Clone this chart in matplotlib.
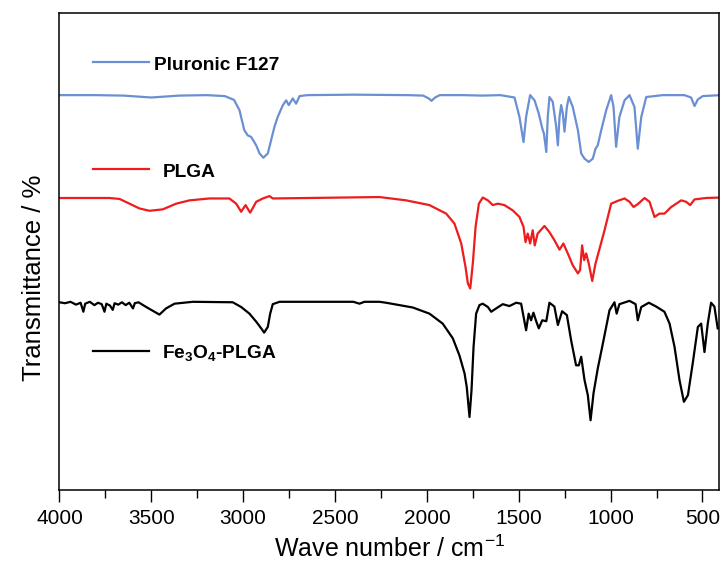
import matplotlib
matplotlib.use("Agg")
import matplotlib.pyplot as plt

plt.rcParams['font.family'] = ['Liberation Sans', 'DejaVu Sans']
plt.rcParams['mathtext.fontset'] = 'custom'
plt.rcParams['mathtext.rm'] = 'Liberation Sans'
plt.rcParams['mathtext.bf'] = 'Liberation Sans:bold'

# FTIR spectra (wavenumber, offset transmittance)
f127_wn = [4000, 3800, 3650, 3500, 3350, 3200, 3100, 3050, 3020, 2994, 2975, 2957, 2929,
           2911, 2890, 2866, 2848, 2830, 2812, 2784, 2766, 2752, 2730, 2712, 2693, 2650,
           2400, 2100, 2020, 1990, 1975, 1955, 1930, 1800, 1700, 1600, 1523, 1496, 1474,
           1460, 1438, 1414, 1391, 1372, 1363, 1350, 1342, 1333, 1315, 1296, 1287, 1278,
           1269, 1260, 1251, 1238, 1227, 1206, 1178, 1160, 1142, 1119, 1097, 1082, 1070,
           1051, 1024, 997, 984, 970, 952, 924, 897, 870, 852, 833, 806, 716, 598, 562,
           543, 525, 498, 400]
f127_t = [82.5, 82.5, 82.4, 82.0, 82.4, 82.5, 82.3, 81.5, 79.3, 75.1, 74.0, 73.7, 71.9,
          70.2, 69.3, 70.2, 73.0, 75.8, 77.9, 80.4, 81.4, 80.4, 81.8, 80.7, 82.3, 82.5,
          82.6, 82.5, 82.4, 81.8, 81.3, 82.0, 82.5, 82.5, 82.4, 82.5, 82.0, 77.9, 72.6,
          77.9, 82.5, 81.4, 78.6, 75.5, 74.4, 70.5, 77.9, 82.1, 81.1, 75.8, 71.9, 77.9,
          80.4, 78.6, 74.8, 80.0, 82.1, 80.0, 75.1, 70.2, 69.1, 68.4, 69.1, 71.2, 71.9,
          75.1, 79.3, 82.5, 80.0, 71.6, 77.9, 81.4, 82.5, 80.0, 71.2, 77.9, 82.1, 82.5,
          82.5, 82.0, 80.2, 81.6, 82.3, 82.5]

plga_wn = [4000, 3728, 3673, 3619, 3565, 3510, 3438, 3365, 3292, 3184, 3075, 3038, 3011,
           2987, 2962, 2929, 2893, 2857, 2839, 2258, 2113, 1986, 1895, 1850, 1813, 1790,
           1777, 1764, 1750, 1735, 1717, 1696, 1668, 1641, 1614, 1578, 1533, 1496, 1474,
           1463, 1451, 1438, 1424, 1413, 1397, 1360, 1333, 1306, 1278, 1257, 1233, 1206,
           1178, 1166, 1155, 1144, 1133, 1119, 1100, 1082, 1060, 1033, 997, 961, 924, 897,
           875, 852, 815, 788, 761, 734, 707, 670, 616, 589, 567, 543, 480, 400]
plga_t = [60.8, 60.8, 60.6, 59.6, 58.6, 58.1, 58.4, 59.6, 60.3, 60.7, 60.7, 59.6, 57.9,
          59.3, 57.7, 60.0, 60.7, 61.2, 60.7, 61.0, 60.3, 59.3, 57.5, 55.4, 51.2, 46.3,
          42.8, 41.7, 47.0, 54.7, 59.6, 60.9, 60.3, 59.3, 59.6, 59.3, 58.2, 56.8, 54.7,
          51.5, 53.3, 51.2, 54.0, 50.8, 53.3, 54.9, 53.6, 51.9, 49.9, 51.2, 49.1, 46.6,
          44.9, 45.6, 50.8, 47.7, 49.1, 47.0, 43.3, 47.0, 50.1, 54.0, 59.6, 60.2, 60.7,
          60.0, 58.9, 59.5, 60.8, 60.0, 56.8, 57.5, 57.5, 58.9, 60.3, 60.0, 59.3, 60.5,
          60.8, 60.9]

fe_wn = [4000, 3970, 3940, 3910, 3885, 3870, 3860, 3835, 3810, 3790, 3770, 3755, 3745,
         3725, 3710, 3700, 3680, 3660, 3640, 3620, 3600, 3590, 3570, 3528, 3483, 3456,
         3420, 3374, 3274, 3057, 3011, 2966, 2929, 2902, 2886, 2866, 2853, 2839, 2802,
         2400, 2367, 2340, 2258, 2222, 2077, 1986, 1914, 1859, 1823, 1795, 1783, 1768,
         1757, 1746, 1732, 1714, 1696, 1668, 1650, 1623, 1587, 1551, 1514, 1487, 1460,
         1446, 1433, 1420, 1405, 1391, 1372, 1350, 1333, 1306, 1287, 1264, 1238, 1215,
         1188, 1173, 1160, 1142, 1124, 1109, 1093, 1070, 1042, 1006, 979, 967, 952, 897,
         864, 852, 833, 792, 752, 707, 679, 652, 625, 601, 579, 553, 525, 507, 489, 471,
         453, 435, 417]
fe_t = [38.8, 38.6, 38.9, 38.3, 38.7, 36.8, 38.5, 38.9, 38.2, 38.7, 38.4, 36.8, 38.5,
        38.1, 37.2, 38.6, 38.3, 38.8, 38.2, 38.7, 37.5, 38.6, 38.8, 37.8, 36.8, 36.2,
        37.5, 38.5, 38.9, 38.8, 37.8, 36.4, 34.7, 33.3, 32.4, 33.6, 36.4, 38.4, 38.9,
        38.9, 38.5, 38.9, 38.9, 38.7, 37.7, 36.4, 34.3, 31.2, 27.6, 23.8, 20.9, 14.6,
        20.3, 29.4, 36.4, 38.2, 38.5, 37.8, 36.8, 37.5, 38.4, 38.0, 38.7, 38.5, 32.9,
        36.4, 35.0, 36.6, 34.8, 33.3, 35.0, 34.8, 38.7, 37.9, 34.0, 36.9, 36.1, 30.8,
        25.5, 25.5, 27.3, 22.4, 19.2, 13.9, 19.6, 24.8, 30.1, 37.1, 38.8, 36.4, 38.4,
        39.1, 38.4, 35.0, 37.8, 38.7, 37.9, 36.8, 34.3, 29.4, 22.4, 17.8, 19.2, 25.9,
        33.6, 34.3, 28.3, 34.3, 38.7, 37.9, 33.3]

series = [
    (f127_wn, f127_t, '#6a8fd2', 'Pluronic F127', 0.897, 0.881),
    (plga_wn, plga_t, '#ee1c1c', 'PLGA', 0.673, 0.656),
    (fe_wn, fe_t, 'black', r'Fe$_\mathbf{3}$O$_\mathbf{4}$-PLGA', 0.291, 0.275),
]
label_x = [0.143, 0.157, 0.155]

fig = plt.figure(figsize=(7.21, 5.71), dpi=100)
ax = fig.add_axes([0.0825, 0.1419, 0.9147, 0.8351])

for i, (wn, t, color, name, ly, ty) in enumerate(series):
    ax.plot(wn, t, color=color, lw=1.6)
    # hand-placed legend entries
    ax.plot([0.051, 0.136], [ly, ly], color=color, lw=1.6, transform=ax.transAxes)
    ax.text(label_x[i], ty, name, transform=ax.transAxes, fontsize=13.8,
            fontweight='bold', va='baseline', ha='left')

ax.set_xlim(4000, 410)
ax.set_ylim(-0.8, 99.8)
ax.set_xticks([4000, 3500, 3000, 2500, 2000, 1500, 1000, 500])
ax.set_xticks(range(3750, 400, -500), minor=True)
ax.set_yticks([])
ax.tick_params(axis='x', which='major', length=8.5, width=1, labelsize=15, pad=5)
ax.tick_params(axis='x', which='minor', length=5.5, width=1)
for s in ax.spines.values():
    s.set_linewidth(1.1)

ax.set_xlabel('Wave number / cm$^{\\mathregular{-1}}$', fontsize=18, labelpad=6)
ax.set_ylabel('Transmittance / %', fontsize=18.5)
ax.yaxis.set_label_coords(-0.021, 0.444)

fig.savefig('out.png', dpi=100)
